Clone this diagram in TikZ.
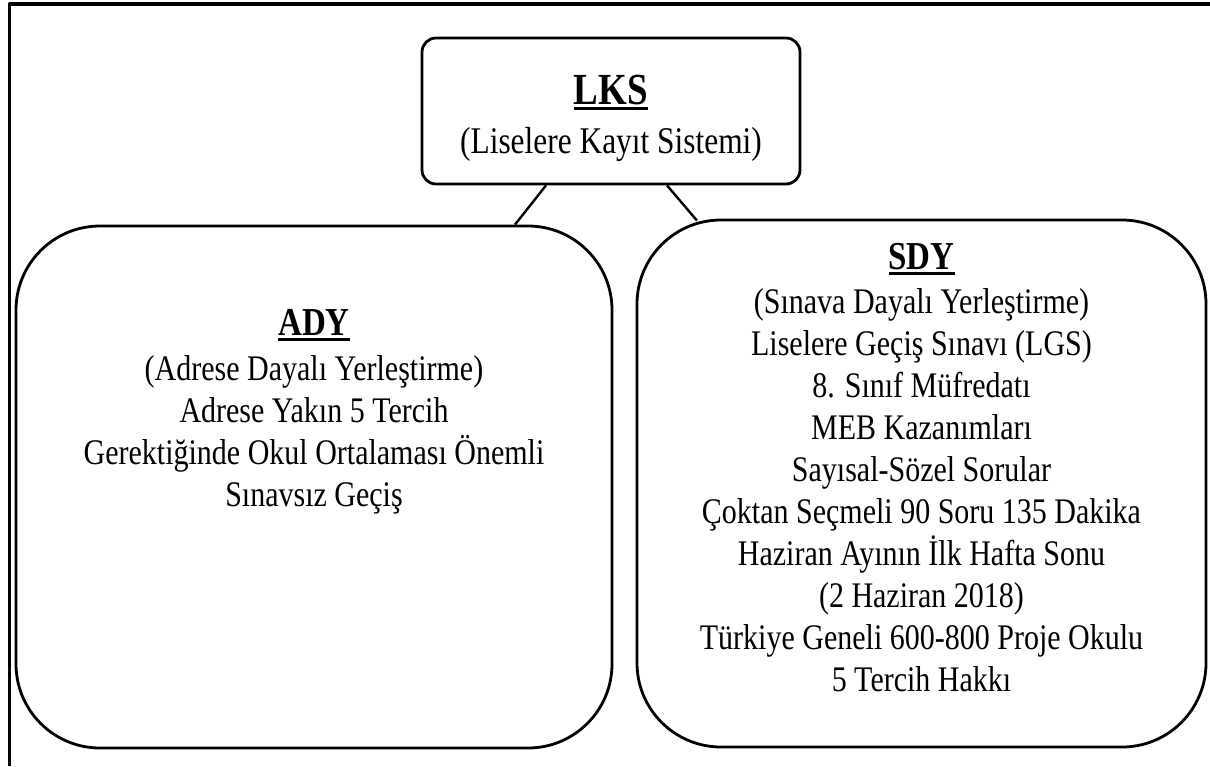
\documentclass[tikz,border=0pt]{standalone}
\usepackage{fontspec}
\setmainfont{Liberation Serif}
\usetikzlibrary{calc}
\newcommand{\altcizgi}[1]{\setbox0\hbox{#1}\rlap{\rule[-2.4pt]{\wd0}{1.1pt}}\box0}
\tikzset{
  kutu/.style={draw, line width=1.4pt, rounded corners=42pt, inner sep=0pt},
  yazi/.style={transform shape, yscale=1.2, inner sep=0pt, align=center, anchor=base},
  baslik/.style={yazi, font=\fontsize{16.5}{20}\selectfont\bfseries},
  metin/.style={yazi, font=\fontsize{15}{17.5}\selectfont},
}

\begin{document}
\begin{tikzpicture}[x=0.5pt, y=-0.5pt, line join=round]
\useasboundingbox (0,0) rectangle (1210,766);
% cerceve
\draw[line width=1.6pt] (9.5,766) -- (9.5,4) -- (1210,4);

% kutular
\node[kutu, rounded corners=7pt, minimum width=189pt, minimum height=73pt] (lks) at (611,111) {};
\node[kutu, minimum width=298pt, minimum height=261pt] (ady) at (314,487) {};
\node[kutu, minimum width=284.5pt, minimum height=263.5pt] (sdy) at (921.5,483.5) {};

% baglantilar
\draw[line width=1.2pt] ($(lks.south)+(-65,0)$) -- ($(ady.north)+(201,0)$);
\draw[line width=1.2pt] ($(lks.south)+(56,0)$) -- ($(sdy.north)+(-224.5,2)$);

% yazilar (base = son satir)
\node[baslik, font=\fontsize{18.5}{22}\selectfont\bfseries] (lks-bas) at (611,104) {\altcizgi{LKS}};
\node[metin, font=\fontsize{15.7}{17.5}\selectfont] (lks-alt) at (611,153) {(Liselere Kayıt Sistemi)};

\node[baslik] (ady-bas) at (314,335) {\altcizgi{ADY}};
\node[metin] (ady-alt) at (314,506) {(Adrese Dayalı Yerleştirme)\\Adrese Yakın 5 Tercih\\Gerektiğinde Okul Ortalaması Önemli\\Sınavsız Geçiş};

\node[baslik] (sdy-bas) at (921.5,269) {\altcizgi{SDY}};
\node[metin] (sdy-alt) at (921.5,691) {(Sınava Dayalı Yerleştirme)\\Liselere Geçiş Sınavı (LGS)\\8. Sınıf Müfredatı\\MEB Kazanımları\\Sayısal-Sözel Sorular\\Çoktan Seçmeli 90 Soru 135 Dakika\\Haziran Ayının İlk Hafta Sonu\\(2 Haziran 2018)\\Türkiye Geneli 600-800 Proje Okulu\\5 Tercih Hakkı};
\end{tikzpicture}
\end{document}
